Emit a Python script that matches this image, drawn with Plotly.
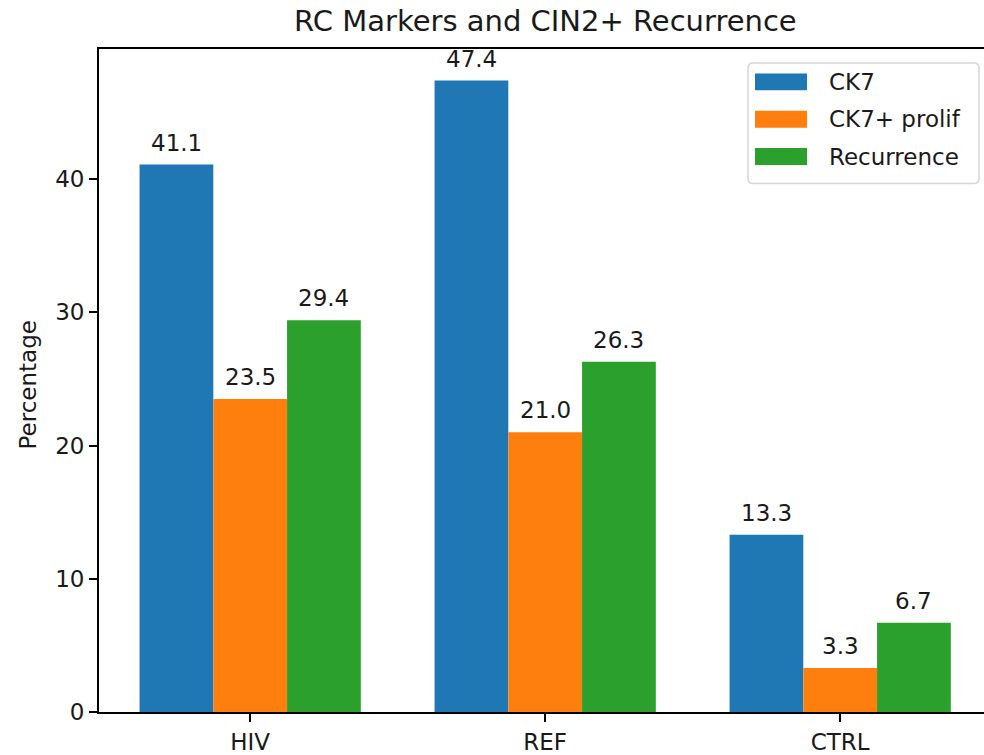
import plotly.graph_objects as go

categories = ["HIV", "REF", "CTRL"]
series_names = ["CK7", "CK7+ prolif", "Recurrence"]
ck7 = [41.1, 47.4, 13.3]
ck7_prolif = [23.5, 21.0, 3.3]
recurrence = [29.4, 26.3, 6.7]
y_ticks = [0, 10, 20, 30, 40]

series_values = [ck7, ck7_prolif, recurrence]
colors = ["#1f77b4", "#ff7f0e", "#2ca02c"]

W, H = 984, 755
L, R_EDGE, T, B_EDGE = 99, 984, 49, 715  # pixel positions of the plot area
PW, PH = R_EDGE - L, B_EDGE - T
FONT = "DejaVu Sans"
FS = 23
TXT = "#1a1a1a"
bar_w = 0.25

x_idx = list(range(len(categories)))
xmin = -0.5125
xmax = xmin + (R_EDGE - L) / 295.0
ymax = max(max(v) for v in series_values) * 1.05

fig = go.Figure()
annotations = []
for k, (name, vals, col) in enumerate(zip(series_names, series_values, colors)):
    fig.add_trace(go.Bar(x=x_idx, y=vals, name=name, marker=dict(color=col, line=dict(width=0)),
                         showlegend=False, hoverinfo="skip"))
    off = (k - 1) * bar_w
    for i, v in zip(x_idx, vals):
        annotations.append(dict(x=i + off, y=v, xref="x", yref="y", text=f"{v:.1f}",
                                showarrow=False, yanchor="bottom", yshift=7,
                                font=dict(family=FONT, size=FS, color=TXT)))

def px(xp):
    return (xp - L) / PW

def py(yp):
    return (B_EDGE - yp) / PH

# title
annotations.append(dict(x=px((L + 992) / 2), y=py(21), xref="paper", yref="paper",
                        text="RC Markers and CIN2+ Recurrence", showarrow=False,
                        xanchor="center", yanchor="middle",
                        font=dict(family=FONT, size=29, color=TXT)))
# y label
annotations.append(dict(x=px(28), y=py(387), xref="paper", yref="paper", text="Percentage",
                        showarrow=False, textangle=-90, xanchor="center", yanchor="middle",
                        font=dict(family=FONT, size=FS, color=TXT)))

# custom legend
shapes = []
bx0, bx1, by0, by1, rr = 748, 979, 63, 184, 5
path = (f"M {px(bx0+rr)},{py(by0)} L {px(bx1-rr)},{py(by0)} Q {px(bx1)},{py(by0)} {px(bx1)},{py(by0+rr)} "
        f"L {px(bx1)},{py(by1-rr)} Q {px(bx1)},{py(by1)} {px(bx1-rr)},{py(by1)} "
        f"L {px(bx0+rr)},{py(by1)} Q {px(bx0)},{py(by1)} {px(bx0)},{py(by1-rr)} "
        f"L {px(bx0)},{py(by0+rr)} Q {px(bx0)},{py(by0)} {px(bx0+rr)},{py(by0)} Z")
shapes.append(dict(type="path", xref="paper", yref="paper", path=path,
                   line=dict(color="#d6d6d6", width=1.5), fillcolor="rgba(255,255,255,0.8)"))
row_y = [82, 119.5, 157]
for name, col, ry in zip(series_names, colors, row_y):
    shapes.append(dict(type="rect", xref="paper", yref="paper",
                       x0=px(755), x1=px(807), y0=py(ry + 8.5), y1=py(ry - 8.5),
                       fillcolor=col, line=dict(width=0)))
    annotations.append(dict(x=px(827), y=py(ry), xref="paper", yref="paper", text=name,
                            showarrow=False, xanchor="left", yanchor="middle",
                            font=dict(family=FONT, size=FS, color=TXT)))

fig.update_layout(
    width=W, height=H,
    margin=dict(l=L, r=W - R_EDGE, t=T, b=H - B_EDGE, pad=0),
    plot_bgcolor="white", paper_bgcolor="white",
    barmode="group", bargap=0.25, bargroupgap=0,
    font=dict(family=FONT, size=FS, color=TXT),
    annotations=annotations, shapes=shapes,
    xaxis=dict(range=[xmin, xmax], tickvals=x_idx, ticktext=categories, showgrid=False,
               zeroline=False, showline=True, linecolor="black", linewidth=1.8, mirror=True,
               ticks="outside", ticklen=8, tickwidth=1.8, tickcolor="black",
               tickfont=dict(family=FONT, size=FS, color=TXT)),
    yaxis=dict(range=[0, ymax], tickvals=y_ticks, showgrid=False, zeroline=False,
               showline=True, linecolor="black", linewidth=1.8,
               ticks="outside", ticklen=8, tickwidth=1.8, tickcolor="black",
               tickfont=dict(family=FONT, size=FS, color=TXT)),
)

fig.write_html("out.html", config={"displayModeBar": False},
               post_script="document.body.style.margin='0';document.body.style.overflow='hidden';")
